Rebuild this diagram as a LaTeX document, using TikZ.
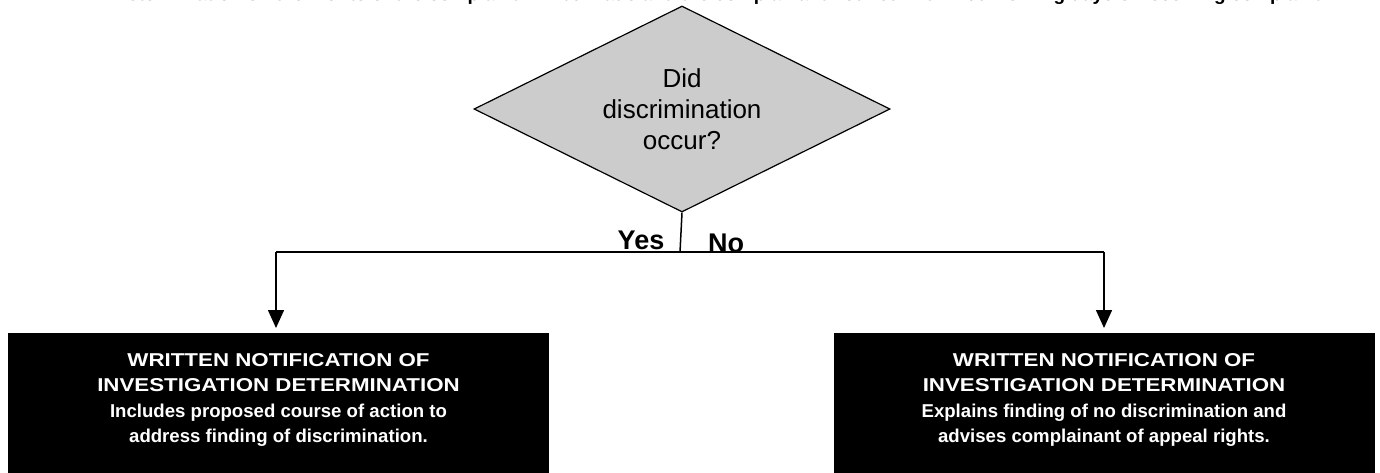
\documentclass[tikz,border=0pt]{standalone}
\usepackage{fontspec}
\setmainfont{Liberation Sans}
\newfontfamily\capsfont[FakeStretch=1.2]{Liberation Sans}
\usetikzlibrary{shapes.geometric,arrows.meta}

\begin{document}
\begin{tikzpicture}[x=1pt,y=-1pt]
		\tikzstyle{every node}+=[inner sep=0pt]
		\tikzstyle{decision}=[diamond, aspect=2, draw=black, line width=1.2pt, fill={rgb,255:red,204;green,204;blue,204}, minimum width=416pt, minimum height=206pt, align=center, font=\fontsize{26}{31}\selectfont]
		\tikzstyle{outbox}=[rectangle, fill=black, minimum width=541pt, minimum height=170pt, anchor=north]
		\tikzstyle{boxtext}=[text=white, align=center, font=\bfseries\fontsize{18.6}{25.5}\selectfont]
		\tikzstyle{branch}=[font=\bfseries\fontsize{27}{27}\selectfont, anchor=base]
		\tikzstyle{line}=[draw=black, line width=1.5pt]
		\tikzstyle{arrow}=[line, -{Triangle[width=16pt,length=18pt]}]
		\useasboundingbox (0,0) rectangle (1380,472);
		% heading, cut off at the top edge
		\node (head) [font=\bfseries\fontsize{19}{19}\selectfont, anchor=base] at (720,0) {Determination on the merits of the complaint will be made and the complainant notified within 60 working days of receiving complaint.};
		\node (ask) [decision] at (682,109) {Did\\discrimination\\occur?};
		\coordinate (split) at (680,252);
		\coordinate (yesend) at (276,252);
		\coordinate (noend) at (1104,252);
		\node (yesbox) [outbox] at (278.5,333) {};
		\node (nobox) [outbox] at (1104,333) {};
		\node (yestext) [boxtext] at ([yshift=-67pt]yesbox.north) {{\capsfont WRITTEN NOTIFICATION OF}\\{\capsfont INVESTIGATION DETERMINATION}\\Includes proposed course of action to\\address finding of discrimination.};
		\node (notext) [boxtext] at ([yshift=-67pt]nobox.north) {{\capsfont WRITTEN NOTIFICATION OF}\\{\capsfont INVESTIGATION DETERMINATION}\\Explains finding of no discrimination and\\advises complainant of appeal rights.};
		\draw [line] (ask.south) -- (split);
		\draw [line] (yesend) -- (noend);
		\draw [arrow] (yesend) -- ([yshift=5pt]yesbox.north -| yesend);
		\draw [arrow] (noend) -- ([yshift=5pt]nobox.north -| noend);
		\node (yes) [branch] at (641,249) {Yes};
		\node (no) [branch] at (726,252) {No};
	\end{tikzpicture}
\end{document}
